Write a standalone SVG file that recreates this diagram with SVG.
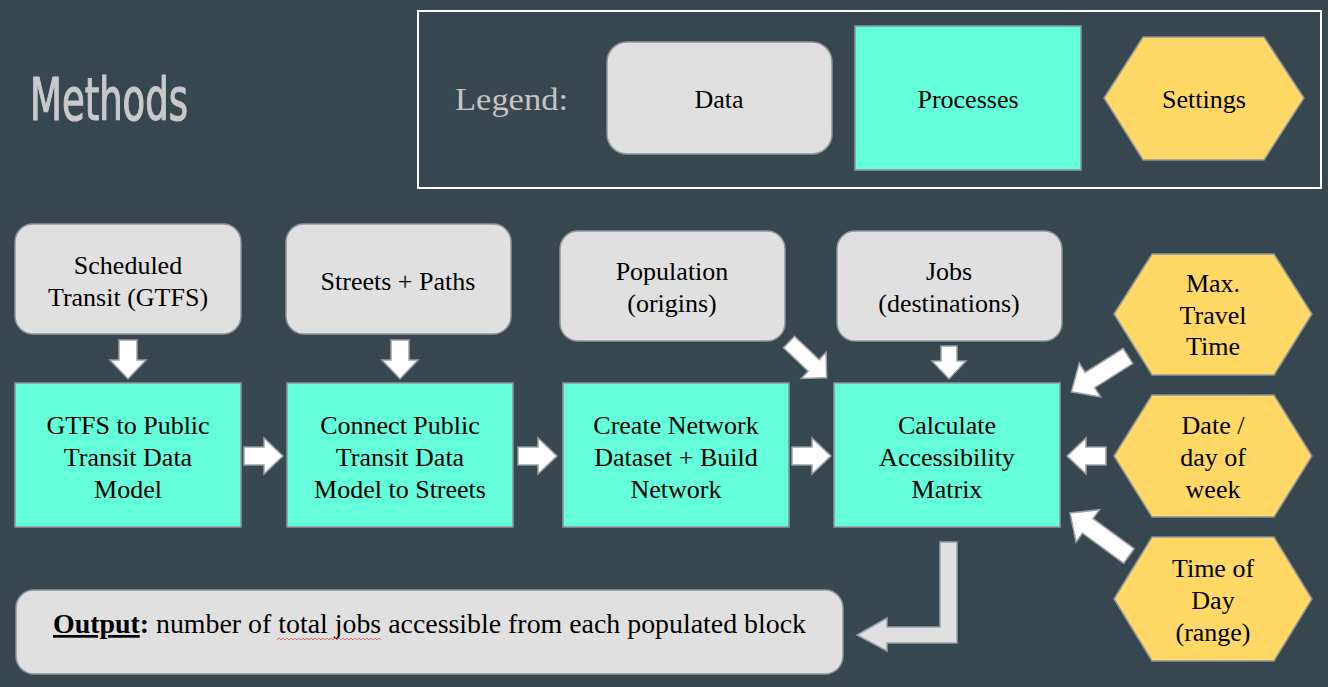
<svg xmlns="http://www.w3.org/2000/svg" width="1328" height="687" viewBox="0 0 1328 687">
<style>
.data{fill:#e0e0e0;stroke:#8f9699;stroke-width:1.5}
.proc{fill:#64ffda;stroke:#8f9699;stroke-width:1.5}
.set{fill:#ffd866;stroke:#8f9699;stroke-width:1.5}
.arr{fill:#ffffff;stroke:#9aa0a3;stroke-width:1.5;stroke-linejoin:miter}
.t{font-family:'Liberation Serif','DejaVu Serif',serif;font-size:26px;fill:#000;text-anchor:middle}
</style>
<defs>
<path id="a39" d="M0,-9 L20,-9 L20,-18 L39,0 L20,18 L20,9 L0,9 Z"/>
</defs>
<rect width="1328" height="687" fill="#37474f"/>
<text x="30" y="120" font-family="'Liberation Sans Narrow','DejaVu Sans Condensed','Liberation Sans',sans-serif" font-stretch="condensed" font-size="58" fill="#c9c9c9" stroke="#c9c9c9" stroke-width="1.2" textLength="158" lengthAdjust="spacingAndGlyphs">Methods</text>

<g id="legend">
<rect x="418" y="11" width="903" height="177" fill="none" stroke="#ffffff" stroke-width="2"/>
<text x="455" y="110" font-family="'Liberation Serif',serif" font-size="32" fill="#c4c4c4" textLength="113" lengthAdjust="spacingAndGlyphs">Legend:</text>
<rect class="data" x="607" y="42" width="225" height="112" rx="20"/>
<text class="t" x="719" y="108">Data</text>
<rect class="proc" x="855" y="26" width="226" height="144"/>
<text class="t" x="968" y="108">Processes</text>
<polygon class="set" points="1104,98 1143,37 1264,37 1304,98 1264,160 1143,160"/>
<text class="t" x="1204" y="108">Settings</text>
</g>

<g id="gtfs-data">
<rect class="data" x="15" y="224" width="226" height="110" rx="18"/>
<text class="t" x="128" y="274">Scheduled</text>
<text class="t" x="128" y="306">Transit (GTFS)</text>
</g>
<g id="streets-data">
<rect class="data" x="286" y="224" width="225" height="110" rx="18"/>
<text class="t" x="398" y="290">Streets + Paths</text>
</g>
<g id="population-data">
<rect class="data" x="560" y="231" width="225" height="110" rx="18"/>
<text class="t" x="672" y="280">Population</text>
<text class="t" x="672" y="312">(origins)</text>
</g>
<g id="jobs-data">
<rect class="data" x="837" y="231" width="225" height="110" rx="18"/>
<text class="t" x="949" y="280">Jobs</text>
<text class="t" x="949" y="312">(destinations)</text>
</g>

<g id="gtfs-process">
<rect class="proc" x="15" y="383" width="226" height="144"/>
<text class="t" x="128" y="434">GTFS to Public</text>
<text class="t" x="128" y="466">Transit Data</text>
<text class="t" x="128" y="498">Model</text>
</g>
<g id="connect-process">
<rect class="proc" x="287" y="383" width="226" height="144"/>
<text class="t" x="400" y="434">Connect Public</text>
<text class="t" x="400" y="466">Transit Data</text>
<text class="t" x="400" y="498">Model to Streets</text>
</g>
<g id="network-process">
<rect class="proc" x="563" y="383" width="226" height="144"/>
<text class="t" x="676" y="434">Create Network</text>
<text class="t" x="676" y="466">Dataset + Build</text>
<text class="t" x="676" y="498">Network</text>
</g>
<g id="accessibility-process">
<rect class="proc" x="834" y="383" width="226" height="144"/>
<text class="t" x="947" y="434">Calculate</text>
<text class="t" x="947" y="466">Accessibility</text>
<text class="t" x="947" y="498">Matrix</text>
</g>

<g id="max-travel-setting">
<polygon class="set" points="1114,314 1152,254 1274,254 1312,314 1274,375 1152,375"/>
<text class="t" x="1213" y="292">Max.</text>
<text class="t" x="1213" y="324">Travel</text>
<text class="t" x="1213" y="355">Time</text>
</g>
<g id="date-setting">
<polygon class="set" points="1114,456 1152,395 1274,395 1312,456 1274,517 1152,517"/>
<text class="t" x="1213" y="434">Date /</text>
<text class="t" x="1213" y="466">day of</text>
<text class="t" x="1213" y="498">week</text>
</g>
<g id="time-setting">
<polygon class="set" points="1114,599 1152,537 1274,537 1312,599 1274,661 1152,661"/>
<text class="t" x="1213" y="577">Time of</text>
<text class="t" x="1213" y="609">Day</text>
<text class="t" x="1213" y="641">(range)</text>
</g>

<g id="output">
<rect class="data" x="16" y="590" width="827" height="84" rx="18"/>
<text x="53" y="633" font-family="'Liberation Serif','DejaVu Serif',serif" font-size="27" fill="#000" textLength="753" lengthAdjust="spacingAndGlyphs"><tspan font-weight="bold" text-decoration="underline">Output</tspan><tspan font-weight="bold">:</tspan> number of total jobs accessible from each populated block</text>
<path d="M277,640 l2,-2 l2,2 l2,-2 l2,2 l2,-2 l2,2 l2,-2 l2,2 l2,-2 l2,2 l2,-2 l2,2 l2,-2 l2,2 l2,-2 l2,2 l2,-2 l2,2 l2,-2 l2,2 l2,-2 l2,2 l2,-2 l2,2 l2,-2 l2,2 l2,-2 l2,2 l2,-2 l2,2 l2,-2 l2,2 l2,-2 l2,2 l2,-2 l2,2 l2,-2 l2,2 l2,-2 l2,2 l2,-2 l2,2 l2,-2 l2,2 l2,-2 l2,2 l2,-2 l2,2 l2,-2 l2,2 l2,-2 l2,2" fill="none" stroke="#e05050" stroke-width="0.8"/>
</g>

<g id="connectors">
<use class="arr" href="#a39" transform="translate(128,340) rotate(90)"/>
<use class="arr" href="#a39" transform="translate(400,340) rotate(90)"/>
<path class="arr" d="M0,-8 L15,-8 L15,-17 L33,0 L15,17 L15,8 L0,8 Z" transform="translate(949,346) rotate(90)"/>
<path class="arr" d="M0,-8 L34,-8 L34,-18 L52,0 L34,18 L34,8 L0,8 Z" transform="translate(789,342) rotate(43.5)"/>
<use class="arr" href="#a39" transform="translate(244,456)"/>
<use class="arr" href="#a39" transform="translate(518,456)"/>
<use class="arr" href="#a39" transform="translate(792,456)"/>
<path class="arr" d="M0,-9 L45,-9 L45,-20 L67,0 L45,20 L45,9 L0,9 Z" transform="translate(1128,356) rotate(147.7)"/>
<use class="arr" href="#a39" transform="translate(1106,456) rotate(180)"/>
<path class="arr" d="M0,-9 L51,-9 L51,-20 L73,0 L51,20 L51,9 L0,9 Z" transform="translate(1129,556) rotate(-143.9)"/>
<polygon points="940,542 957,542 957,643 887,643 887,651 857,635 887,618 887,627 940,627" fill="#e0e0e0" stroke="#9aa0a3" stroke-width="1.5"/>
</g>
</svg>
